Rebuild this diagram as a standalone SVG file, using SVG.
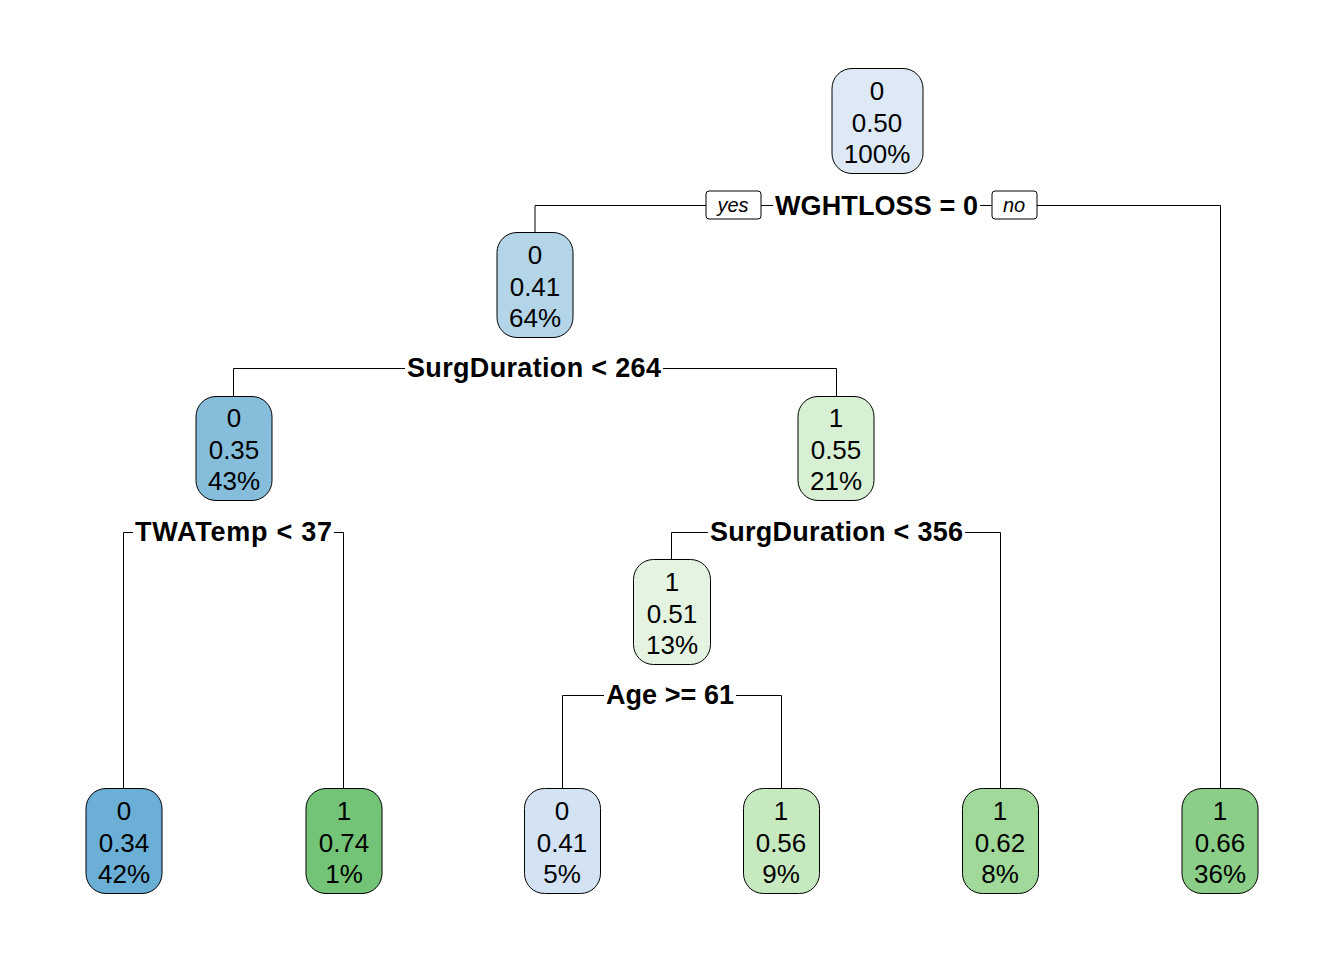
<svg xmlns="http://www.w3.org/2000/svg" width="1344" height="960" viewBox="0 0 1344 960">
<style>
.box{stroke:#000;stroke-width:1}
.nt{font-family:"Liberation Sans",Arial,sans-serif;font-size:26px;text-anchor:middle;fill:#000}
.lbl{font-family:"Liberation Sans",Arial,sans-serif;font-size:27px;font-weight:bold;text-anchor:middle;fill:#000}
.yn{font-family:"Liberation Sans",Arial,sans-serif;font-size:20px;font-style:italic;text-anchor:middle;fill:#000}
.ln{fill:none;stroke:#000;stroke-width:1}
.bg{fill:#fff}
</style>
<rect width="1344" height="960" fill="#fff"/>
<g id="connectors">
<path class="ln" d="M535,232 V205.5 H1220.5 V788"/>
<path class="ln" d="M233.5,396 V368.5 H836.5 V396"/>
<path class="ln" d="M123.5,788 V532.5 H343.5 V788"/>
<path class="ln" d="M671.5,559 V532.5 H1000.5 V788"/>
<path class="ln" d="M562.5,788 V695.5 H781.5 V788"/>
</g>
<g id="labels">
<rect class="bg" x="773" y="192" width="207" height="28"/>
<text class="lbl" x="876.5" y="215" textLength="203" lengthAdjust="spacing">WGHTLOSS = 0</text>
<rect class="bg" x="706" y="191" width="55" height="28" rx="3" stroke="#000"/>
<text class="yn" x="733" y="212">yes</text>
<rect class="bg" x="992" y="191" width="45" height="28" rx="3" stroke="#000"/>
<text class="yn" x="1014" y="212">no</text>
<rect class="bg" x="405" y="355" width="258" height="28"/>
<text class="lbl" x="534" y="377" textLength="254" lengthAdjust="spacing">SurgDuration &lt; 264</text>
<rect class="bg" x="133" y="519" width="201" height="28"/>
<text class="lbl" x="233.5" y="541" textLength="197" lengthAdjust="spacing">TWATemp &lt; 37</text>
<rect class="bg" x="708" y="519" width="257" height="28"/>
<text class="lbl" x="836.5" y="541" textLength="253" lengthAdjust="spacing">SurgDuration &lt; 356</text>
<rect class="bg" x="604" y="682" width="132" height="28"/>
<text class="lbl" x="670" y="704" textLength="128" lengthAdjust="spacing">Age &gt;= 61</text>
</g>
<g id="n1"><rect class="box" x="832" y="68.5" width="91" height="105" rx="20" fill="#DDE9F5"/>
<text class="nt" x="877" y="100">0</text><text class="nt" x="877" y="132">0.50</text><text class="nt" x="877" y="163">100%</text></g>
<g id="n2"><rect class="box" x="497" y="232.5" width="76" height="105" rx="20" fill="#B4D4E8"/>
<text class="nt" x="535" y="264">0</text><text class="nt" x="535" y="296">0.41</text><text class="nt" x="535" y="327">64%</text></g>
<g id="n4"><rect class="box" x="196" y="396.5" width="76" height="104" rx="20" fill="#85BDDB"/>
<text class="nt" x="234" y="427">0</text><text class="nt" x="234" y="459">0.35</text><text class="nt" x="234" y="490">43%</text></g>
<g id="n5"><rect class="box" x="798" y="396.5" width="76" height="104" rx="20" fill="#D7EFD2"/>
<text class="nt" x="836" y="427">1</text><text class="nt" x="836" y="459">0.55</text><text class="nt" x="836" y="490">21%</text></g>
<g id="n10"><rect class="box" x="633.5" y="559.5" width="77" height="105" rx="20" fill="#E5F4E0"/>
<text class="nt" x="672" y="591">1</text><text class="nt" x="672" y="623">0.51</text><text class="nt" x="672" y="654">13%</text></g>
<g id="n8"><rect class="box" x="86" y="788.5" width="76" height="105" rx="20" fill="#6BAED6"/>
<text class="nt" x="124" y="820">0</text><text class="nt" x="124" y="852">0.34</text><text class="nt" x="124" y="883">42%</text></g>
<g id="n9"><rect class="box" x="306" y="788.5" width="76" height="105" rx="20" fill="#73C476"/>
<text class="nt" x="344" y="820">1</text><text class="nt" x="344" y="852">0.74</text><text class="nt" x="344" y="883">1%</text></g>
<g id="n20"><rect class="box" x="524.5" y="788.5" width="76" height="105" rx="20" fill="#D3E3F3"/>
<text class="nt" x="562" y="820">0</text><text class="nt" x="562" y="852">0.41</text><text class="nt" x="562" y="883">5%</text></g>
<g id="n21"><rect class="box" x="743.5" y="788.5" width="76" height="105" rx="20" fill="#C7E9C0"/>
<text class="nt" x="781" y="820">1</text><text class="nt" x="781" y="852">0.56</text><text class="nt" x="781" y="883">9%</text></g>
<g id="n11"><rect class="box" x="962.5" y="788.5" width="76" height="105" rx="20" fill="#A1D99B"/>
<text class="nt" x="1000" y="820">1</text><text class="nt" x="1000" y="852">0.62</text><text class="nt" x="1000" y="883">8%</text></g>
<g id="n3"><rect class="box" x="1182" y="788.5" width="76" height="105" rx="20" fill="#8ACE88"/>
<text class="nt" x="1220" y="820">1</text><text class="nt" x="1220" y="852">0.66</text><text class="nt" x="1220" y="883">36%</text></g>
</svg>
